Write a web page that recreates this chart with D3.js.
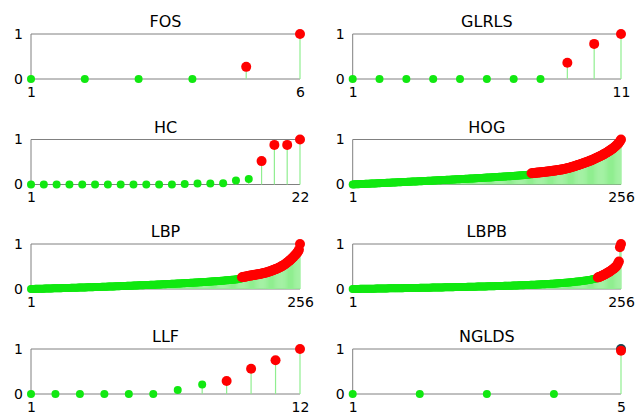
<!DOCTYPE html>
<html>
<head>
<meta charset="utf-8">
<script src="https://cdn.jsdelivr.net/npm/d3@7"></script>
<style>
  html, body { margin: 0; padding: 0; background: #fff; }
  svg { display: block; }
  .tick text { font-family: "DejaVu Sans", sans-serif; font-size: 14px; fill: #000; }
  .title { font-family: "DejaVu Sans", sans-serif; font-size: 16px; fill: #000; }
</style>
</head>
<body>
<svg id="chart" width="635" height="413"></svg>
<script>
// Sorted, normalised feature scores for each descriptor family.
const panelNames = ["FOS", "GLRLS", "HC", "HOG", "LBP", "LBPB", "LLF", "NGLDS"];

const fosValues = [0, 0, 0, 0, 0.27, 1];

const glrlsValues = [0, 0, 0, 0, 0, 0, 0, 0, 0.36, 0.78, 1];

const hcValues = [0, 0, 0, 0, 0, 0, 0, 0, 0, 0, 0, 0, 0.01, 0.02, 0.02, 0.03,
  0.09, 0.12, 0.52, 0.88, 0.88, 1];

const hogValues = [
  0.000,0.002,0.003,0.004,0.006,0.007,0.008,0.009,0.010,0.011,
  0.012,0.013,0.014,0.016,0.017,0.018,0.019,0.020,0.021,0.022,
  0.023,0.024,0.025,0.027,0.028,0.029,0.030,0.031,0.032,0.033,
  0.034,0.035,0.037,0.038,0.039,0.040,0.041,0.042,0.043,0.044,
  0.045,0.047,0.048,0.049,0.050,0.051,0.052,0.053,0.055,0.056,
  0.057,0.058,0.059,0.060,0.061,0.063,0.064,0.065,0.066,0.067,
  0.068,0.069,0.071,0.072,0.073,0.074,0.075,0.077,0.078,0.079,
  0.080,0.081,0.082,0.084,0.085,0.086,0.087,0.088,0.090,0.091,
  0.092,0.093,0.094,0.096,0.097,0.098,0.099,0.101,0.102,0.103,
  0.104,0.106,0.107,0.108,0.109,0.111,0.112,0.113,0.114,0.116,
  0.117,0.118,0.119,0.121,0.122,0.123,0.125,0.126,0.127,0.128,
  0.130,0.131,0.132,0.134,0.135,0.136,0.138,0.139,0.140,0.142,
  0.143,0.144,0.146,0.147,0.148,0.150,0.151,0.153,0.154,0.155,
  0.157,0.158,0.160,0.161,0.162,0.164,0.165,0.167,0.168,0.170,
  0.171,0.173,0.174,0.176,0.177,0.179,0.180,0.182,0.183,0.185,
  0.186,0.188,0.190,0.191,0.193,0.194,0.196,0.198,0.199,0.201,
  0.203,0.205,0.207,0.209,0.211,0.213,0.216,0.219,0.223,0.228,
  0.250,0.252,0.254,0.257,0.259,0.262,0.264,0.267,0.269,0.272,
  0.274,0.277,0.280,0.282,0.285,0.288,0.291,0.294,0.297,0.300,
  0.303,0.306,0.309,0.313,0.316,0.320,0.323,0.327,0.331,0.335,
  0.340,0.345,0.350,0.356,0.362,0.368,0.374,0.380,0.387,0.394,
  0.401,0.408,0.415,0.423,0.431,0.439,0.447,0.455,0.463,0.471,
  0.479,0.487,0.495,0.504,0.513,0.522,0.531,0.541,0.551,0.561,
  0.571,0.582,0.593,0.604,0.615,0.627,0.639,0.651,0.664,0.677,
  0.690,0.704,0.718,0.733,0.748,0.764,0.780,0.797,0.815,0.834,
  0.854,0.876,0.900,0.927,0.960,1.000
];

const lbpValues = [
  0.000,0.001,0.001,0.002,0.003,0.003,0.004,0.005,0.005,0.006,
  0.007,0.007,0.008,0.009,0.009,0.010,0.011,0.011,0.012,0.013,
  0.013,0.014,0.015,0.015,0.016,0.017,0.017,0.018,0.019,0.019,
  0.020,0.021,0.021,0.022,0.023,0.023,0.024,0.025,0.026,0.026,
  0.027,0.028,0.028,0.029,0.030,0.031,0.031,0.032,0.033,0.034,
  0.034,0.035,0.036,0.037,0.037,0.038,0.039,0.040,0.041,0.041,
  0.042,0.043,0.044,0.045,0.045,0.046,0.047,0.048,0.049,0.050,
  0.050,0.051,0.052,0.053,0.054,0.055,0.056,0.057,0.057,0.058,
  0.059,0.060,0.061,0.062,0.063,0.064,0.065,0.066,0.067,0.068,
  0.069,0.070,0.071,0.072,0.073,0.074,0.075,0.076,0.077,0.078,
  0.079,0.080,0.081,0.082,0.083,0.084,0.085,0.086,0.087,0.088,
  0.089,0.090,0.091,0.092,0.093,0.094,0.095,0.096,0.097,0.098,
  0.099,0.100,0.101,0.102,0.104,0.105,0.106,0.107,0.108,0.109,
  0.110,0.112,0.113,0.114,0.115,0.116,0.118,0.119,0.120,0.121,
  0.122,0.124,0.125,0.126,0.127,0.129,0.130,0.131,0.133,0.134,
  0.135,0.137,0.138,0.139,0.141,0.142,0.144,0.145,0.146,0.148,
  0.149,0.151,0.152,0.154,0.155,0.157,0.158,0.160,0.161,0.163,
  0.165,0.166,0.168,0.170,0.171,0.173,0.175,0.177,0.178,0.180,
  0.182,0.184,0.186,0.188,0.190,0.192,0.194,0.196,0.198,0.200,
  0.203,0.205,0.208,0.210,0.213,0.216,0.219,0.223,0.227,0.232,
  0.260,0.265,0.270,0.275,0.280,0.285,0.290,0.294,0.298,0.302,
  0.306,0.310,0.314,0.318,0.322,0.326,0.330,0.335,0.340,0.345,
  0.350,0.356,0.362,0.368,0.375,0.382,0.389,0.397,0.405,0.414,
  0.423,0.432,0.442,0.452,0.463,0.474,0.486,0.498,0.511,0.525,
  0.540,0.556,0.573,0.591,0.610,0.630,0.651,0.673,0.696,0.720,
  0.745,0.770,0.795,0.830,0.870,1.000
];

const lbpbValues = [
  0.000,0.000,0.001,0.001,0.002,0.002,0.002,0.003,0.003,0.004,
  0.004,0.004,0.005,0.005,0.006,0.006,0.006,0.007,0.007,0.008,
  0.008,0.008,0.009,0.009,0.010,0.010,0.010,0.011,0.011,0.012,
  0.012,0.012,0.013,0.013,0.014,0.014,0.014,0.015,0.015,0.016,
  0.016,0.016,0.017,0.017,0.018,0.018,0.018,0.019,0.019,0.020,
  0.020,0.020,0.021,0.021,0.022,0.022,0.022,0.023,0.023,0.024,
  0.024,0.024,0.025,0.025,0.026,0.026,0.026,0.027,0.027,0.028,
  0.028,0.029,0.029,0.030,0.030,0.031,0.031,0.032,0.032,0.033,
  0.033,0.034,0.034,0.035,0.035,0.036,0.036,0.037,0.037,0.038,
  0.038,0.039,0.039,0.040,0.040,0.041,0.041,0.042,0.042,0.043,
  0.043,0.044,0.044,0.045,0.045,0.046,0.046,0.047,0.047,0.048,
  0.048,0.049,0.049,0.050,0.050,0.051,0.052,0.052,0.053,0.053,
  0.054,0.054,0.055,0.056,0.056,0.057,0.057,0.058,0.059,0.059,
  0.060,0.061,0.061,0.062,0.063,0.063,0.064,0.065,0.065,0.066,
  0.067,0.067,0.068,0.069,0.070,0.070,0.071,0.072,0.073,0.073,
  0.074,0.075,0.076,0.077,0.077,0.078,0.079,0.080,0.081,0.082,
  0.083,0.084,0.085,0.086,0.087,0.088,0.089,0.090,0.091,0.092,
  0.093,0.094,0.095,0.096,0.097,0.098,0.099,0.100,0.102,0.103,
  0.104,0.105,0.106,0.108,0.109,0.110,0.112,0.113,0.115,0.116,
  0.118,0.119,0.121,0.122,0.124,0.126,0.127,0.129,0.131,0.133,
  0.135,0.137,0.139,0.141,0.143,0.145,0.147,0.149,0.152,0.154,
  0.156,0.159,0.161,0.164,0.166,0.169,0.172,0.175,0.178,0.181,
  0.184,0.187,0.191,0.194,0.198,0.202,0.206,0.210,0.215,0.220,
  0.226,0.232,0.240,
  0.255,0.264,0.274,0.284,0.295,0.306,0.318,0.330,0.343,0.356,
  0.370,0.385,0.400,0.416,0.433,0.451,0.470,0.492,0.520,0.560,
  0.610,0.930,1.000
];

const llfValues = [0, 0, 0, 0, 0, 0, 0.09, 0.21, 0.29, 0.56, 0.75, 1];

const ngldsValues = [0, 0, 0, 0, 0.96];

// Reference marker sitting under the top NGLDS score.
const ngldsReference = [{ index: 5, value: 1.0 }];

const yTickValues = [0, 1];
const selectionThreshold = 0.25;

const seriesValues = [fosValues, glrlsValues, hcValues, hogValues,
  lbpValues, lbpbValues, llfValues, ngldsValues];

// Layout
const colLeft = [31, 352.7];
const colRight = [300, 621];
const rowTop = [34, 139.5, 244, 349];
const panelHeight = 45;

const spineColor = "#808080";
const stemColor = "#90ee90";
const keepColor = "#11e811";
const selectColor = "#ff0000";

const svg = d3.select("#chart");

panelNames.forEach((name, p) => {
  const values = seriesValues[p];
  const n = values.length;
  const col = p % 2, row = Math.floor(p / 2);
  const x0 = colLeft[col], x1 = colRight[col];
  const top = rowTop[row], bottom = top + panelHeight;

  const x = d3.scaleLinear().domain([1, n]).range([x0, x1]);
  const y = d3.scaleLinear().domain([0, 1]).range([bottom, top]);

  const g = svg.append("g").attr("class", "panel");

  // spines: left, top, bottom
  g.append("path")
    .attr("d", `M${x1},${y(1)}H${x0}V${y(0)}H${x1}`)
    .attr("fill", "none")
    .attr("stroke", spineColor)
    .attr("stroke-width", 1);

  // y ticks
  g.append("g")
    .attr("transform", `translate(${x0},0)`)
    .call(d3.axisLeft(y).tickValues(yTickValues).tickFormat(d3.format("d"))
      .tickSize(0).tickPadding(8))
    .call(a => a.select(".domain").remove());

  // x ticks (first and last index)
  g.append("g")
    .attr("transform", `translate(0,${bottom})`)
    .call(d3.axisBottom(x).tickValues([1, n]).tickFormat(d3.format("d"))
      .tickSize(0).tickPadding(8))
    .call(a => a.select(".domain").remove());

  const pts = values.map((v, i) => ({ index: i + 1, value: v }));

  // stems
  g.append("g").selectAll("line").data(pts).join("line")
    .attr("x1", d => x(d.index)).attr("x2", d => x(d.index))
    .attr("y1", y(0)).attr("y2", d => y(d.value))
    .attr("stroke", stemColor)
    .attr("stroke-width", 1.2);

  if (name === "NGLDS") {
    g.append("g").selectAll("circle").data(ngldsReference).join("circle")
      .attr("cx", d => x(d.index)).attr("cy", d => y(d.value))
      .attr("r", 5).attr("fill", "#1c4650");
  }

  // markers: kept features in green, selected ones in red
  g.append("g").selectAll("circle").data(pts).join("circle")
    .attr("cx", d => x(d.index)).attr("cy", d => y(d.value))
    .attr("r", d => d.value >= selectionThreshold ? 5 : 4)
    .attr("fill", d => d.value >= selectionThreshold ? selectColor : keepColor);

  g.append("text")
    .attr("class", "title")
    .attr("x", (x0 + x1) / 2)
    .attr("y", top - 7)
    .attr("text-anchor", "middle")
    .text(name);
});
</script>
</body>
</html>
